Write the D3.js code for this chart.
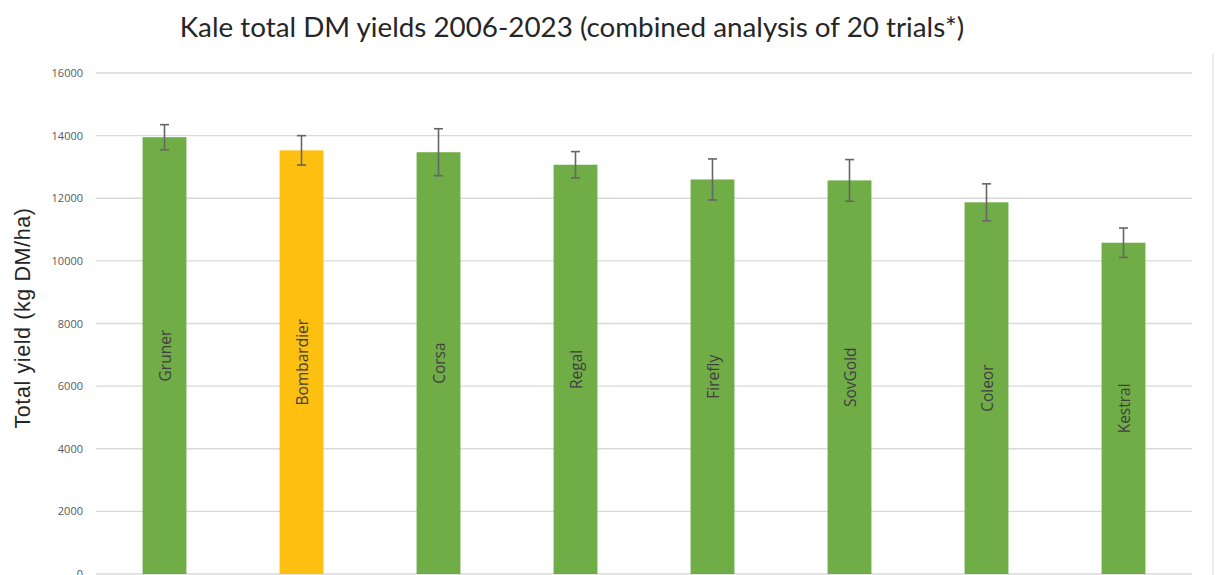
<!DOCTYPE html>
<html><head><meta charset="utf-8">
<script src="https://cdn.jsdelivr.net/npm/d3@7"></script>
<style>body{margin:0;background:#fff}svg{display:block}</style>
</head><body>
<svg id="c" width="1217" height="575"></svg>
<script>
const categories = ["Gruner","Bombardier","Corsa","Regal","Firefly","SovGold","Coleor","Kestral"];
const yields = [13950, 13530, 13470, 13070, 12600, 12570, 11870, 10580];
const errors = [400, 470, 750, 420, 655, 665, 590, 470];
const barColors = ["#70AD47","#FDC010","#70AD47","#70AD47","#70AD47","#70AD47","#70AD47","#70AD47"];
const yTicks = [0,2000,4000,6000,8000,10000,12000,14000,16000];

const svg = d3.select("#c");
const m = {left:96, right:1192, top:73, bottom:574};
const x = d3.scaleBand().domain(categories).range([m.left, m.right]).paddingInner(0.68).paddingOuter(0.34);
const y = d3.scaleLinear().domain([0,16000]).range([m.bottom, m.top]);

// border line on right
svg.append("line").attr("x1",1213).attr("x2",1213).attr("y1",54).attr("y2",575)
  .attr("stroke","#d9d9d9").attr("stroke-width",1);

// gridlines
svg.append("g").selectAll("line").data(yTicks).join("line")
  .attr("x1",m.left).attr("x2",m.right)
  .attr("y1",d=>y(d)).attr("y2",d=>y(d))
  .attr("stroke","#d9d9d9").attr("stroke-width",1.3);

// y axis labels
const ya = svg.append("g").attr("transform",`translate(${m.left},0)`)
  .call(d3.axisLeft(y).tickValues(yTicks).tickSize(0).tickPadding(13).tickFormat(d3.format("d")));
ya.select(".domain").remove();
ya.selectAll("text").attr("font-family","'Open Sans', sans-serif").attr("font-size",11).attr("fill","#595959");

// bars
const data = categories.map((c,i)=>({c, v:yields[i], e:errors[i], col:barColors[i]}));
svg.append("g").selectAll("rect").data(data).join("rect")
  .attr("x",d=>x(d.c)).attr("width",x.bandwidth())
  .attr("y",d=>y(d.v)).attr("height",d=>y(0)-y(d.v))
  .attr("fill",d=>d.col);

// error bars
const eb = svg.append("g").attr("stroke","#666").attr("stroke-width",1.6);
data.forEach(d=>{
  const cx = x(d.c)+x.bandwidth()/2;
  eb.append("line").attr("x1",cx).attr("x2",cx).attr("y1",y(d.v+d.e)).attr("y2",y(d.v-d.e));
  eb.append("line").attr("x1",cx-4.5).attr("x2",cx+4.5).attr("y1",y(d.v+d.e)).attr("y2",y(d.v+d.e));
  eb.append("line").attr("x1",cx-4.5).attr("x2",cx+4.5).attr("y1",y(d.v-d.e)).attr("y2",y(d.v-d.e));
});

// labels inside bars
svg.append("g").selectAll("text").data(data).join("text")
  .attr("transform",d=>`translate(${x(d.c)+x.bandwidth()/2+1},${(y(d.v)+y(0))/2}) rotate(-90)`)
  .attr("text-anchor","middle").attr("dy","0.35em")
  .attr("font-family","'Open Sans', sans-serif").attr("font-size",15.5).attr("fill","#404040")
  .text(d=>d.c);

// title
svg.append("text").attr("x",572).attr("y",37).attr("text-anchor","middle")
  .attr("font-family","Lato, sans-serif").attr("font-size",27.8).attr("fill","#262626")
  .text("Kale total DM yields 2006-2023 (combined analysis of 20 trials*)");

// y axis title
svg.append("text").attr("transform","translate(30,318) rotate(-90)").attr("text-anchor","middle")
  .attr("font-family","'Liberation Sans', Arial, sans-serif").attr("font-size",21.5).attr("letter-spacing",0.6).attr("fill","#262626")
  .text("Total yield (kg DM/ha)");
</script>
</body></html>
